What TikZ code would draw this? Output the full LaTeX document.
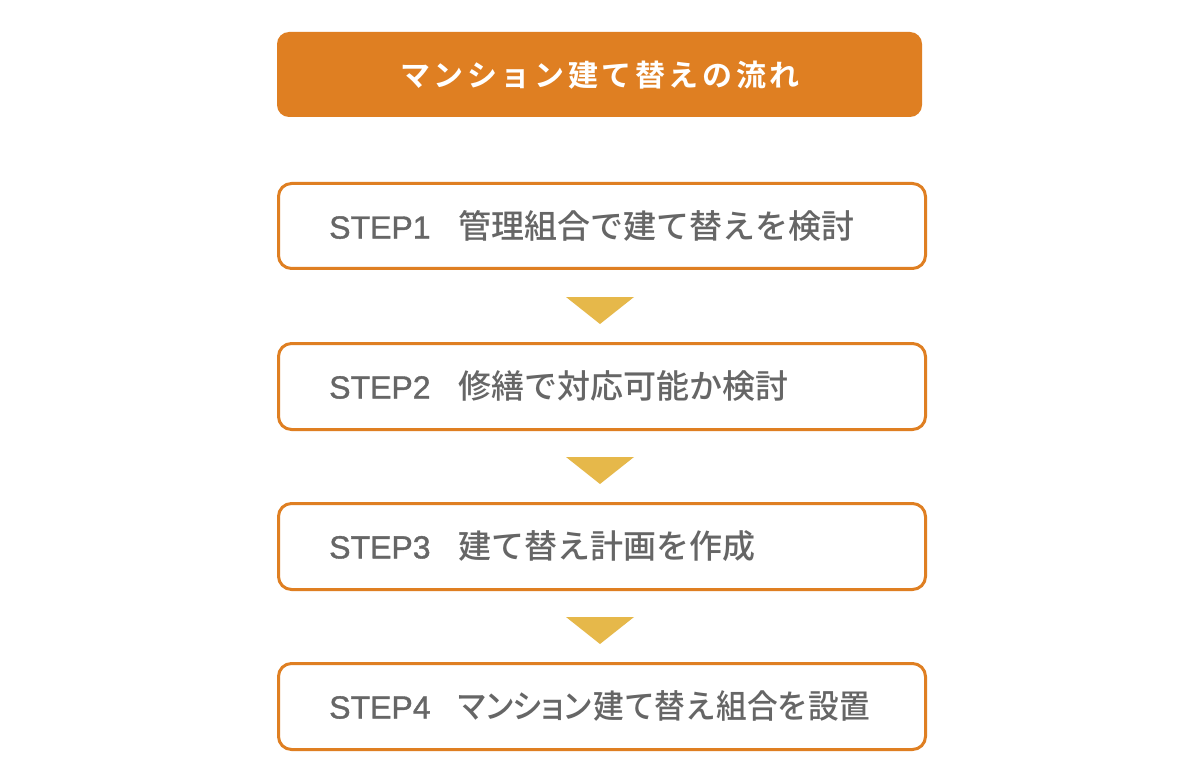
\documentclass[tikz,border=0pt]{standalone}
\usepackage{fontspec}
\usepackage{graphicx}
\newfontfamily\cjk{Noto Sans CJK JP Medium}
\newfontfamily\cjkp[RawFeature=+palt]{Noto Sans CJK JP Medium}
\newfontfamily\latin[FakeBold=1.2]{Liberation Sans}
\newfontfamily\cjktitle[LetterSpace=12]{Noto Sans CJK JP Bold}
\definecolor{orangemain}{HTML}{DF7F22}
\definecolor{arrowgold}{HTML}{E6B84A}
\definecolor{textgray}{HTML}{666666}
\newcommand{\steplabel}[2]{{\latin\fontsize{32}{36}\selectfont #1}\hspace{28pt}#2}
\begin{document}
\begin{tikzpicture}[x=1pt,y=-1pt,
  titlebox/.style={fill=orangemain,draw=none,rounded corners=12pt},
  stepbox/.style={draw=orangemain,line width=3pt,fill=white,rounded corners=13pt},
  steptext/.style={anchor=west,inner sep=0pt,text=textgray,font=\cjk\fontsize{33}{36}\selectfont},
  tri/.style={fill=arrowgold,draw=none}]
\useasboundingbox (0,0) rectangle (1200,778);
\fill[white] (0,0) rectangle (1200,778);
\draw[titlebox] (277,32) rectangle (922,117);
\node[text=white,font=\cjktitle\fontsize{30}{34}\selectfont,inner sep=0pt] (title) at (600,75) {マンション建て替えの流れ};
\foreach \i/\ya/\yb in {1/183.5/268.5,2/343.5/429.5,3/503.5/589.5,4/663.5/749.5}{
  \draw[stepbox] (278.5,\ya) rectangle (925.5,\yb) coordinate (b\i);
}
\node[steptext] (s1) at (329,226) {\steplabel{STEP1}{管理組合で建て替えを検討}};
\node[steptext] (s2) at (329,386) {\steplabel{STEP2}{修繕で対応可能か検討}};
\node[steptext] (s3) at (329,546) {\steplabel{STEP3}{建て替え計画を作成}};
\node[steptext] (s4) at (329,706) {\steplabel{STEP4}{\scalebox{0.93}[1]{{\cjkp マンション}\hspace{2pt}建て替え組合を設置}}};
\foreach \y in {297,457,617}{
  \fill[tri] (566,\y) -- (634,\y) -- (600,\y+27) -- cycle;
}
\end{tikzpicture}
\end{document}
